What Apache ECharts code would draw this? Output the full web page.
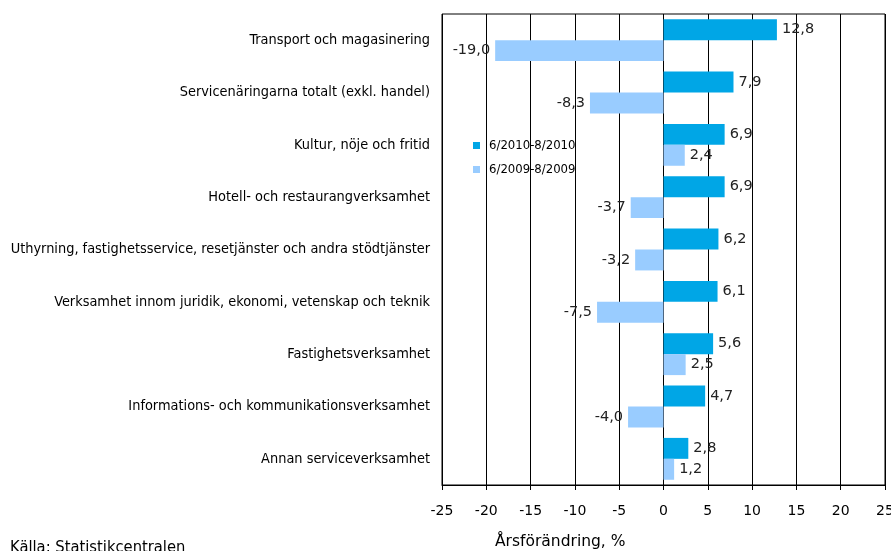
<!DOCTYPE html>
<html><head><meta charset="utf-8">
<script src="https://cdn.jsdelivr.net/npm/echarts@6/dist/echarts.min.js"></script>
<style>html,body{margin:0;padding:0;background:#fff}#c{width:891px;height:551px}</style>
</head><body><div id="c"></div>
<script>
const categories = [
  "Transport och magasinering",
  "Servicenäringarna totalt (exkl. handel)",
  "Kultur, nöje och fritid",
  "Hotell- och restaurangverksamhet",
  "Uthyrning, fastighetsservice, resetjänster och andra stödtjänster",
  "Verksamhet innom juridik, ekonomi, vetenskap och teknik",
  "Fastighetsverksamhet",
  "Informations- och kommunikationsverksamhet",
  "Annan serviceverksamhet"
];
const series2010 = [12.8, 7.9, 6.9, 6.9, 6.2, 6.1, 5.6, 4.7, 2.8];
const series2009 = [-19.0, -8.3, 2.4, -3.7, -3.2, -7.5, 2.5, -4.0, 1.2];
const seriesNames = ["6/2010-8/2010", "6/2009-8/2009"];
const xTicks = [-25, -20, -15, -10, -5, 0, 5, 10, 15, 20, 25];

const fmt = v => v.toFixed(1).replace('.', ',');
const mk = arr => arr.map(v => ({value: v, label: {position: v >= 0 ? 'right' : 'left'}}));
const cond = "'DejaVu Sans Condensed', 'DejaVu Sans'";
const dv = "'DejaVu Sans'";

const chart = echarts.init(document.getElementById('c'), null, {renderer: 'canvas'});
chart.setOption({
  animation: false,
  textStyle: {fontFamily: cond},
  grid: {left: 442, right: 6, top: 14, bottom: 66, show: true, borderColor: '#000', borderWidth: 1,
         outerBoundsMode: 'none', containLabel: false},
  legend: {
    orient: 'vertical', left: 468, top: 134, itemWidth: 7, itemHeight: 7, itemGap: 11,
    textStyle: {fontFamily: cond, fontSize: 13, color: '#000', padding: [0,0,0,4]},
    icon: 'rect', data: seriesNames
  },
  xAxis: {
    type: 'value', min: xTicks[0], max: xTicks[xTicks.length-1], interval: 5,
    axisLine: {show: true, lineStyle: {color: '#000'}},
    axisTick: {show: true, length: 5, lineStyle: {color: '#000'}},
    axisLabel: {color: '#000', fontSize: 14, margin: 19, fontFamily: dv},
    splitLine: {show: true, lineStyle: {color: '#000', width: 1}}
  },
  yAxis: {
    type: 'category', data: categories, inverse: true,
    axisLine: {show: false}, axisTick: {show: false},
    axisLabel: {color: '#000', fontSize: 14.4, margin: 12, fontFamily: cond}
  },
  series: [
    {name: seriesNames[0], type: 'bar', data: mk(series2010), barGap: '0%', barCategoryGap: '20%',
     itemStyle: {color: '#00a6e6'},
     label: {show: true, color: '#222', fontSize: 14.5, distance: 5, fontFamily: dv, formatter: p => fmt(p.value)}},
    {name: seriesNames[1], type: 'bar', data: mk(series2009), barGap: '0%', barCategoryGap: '20%',
     itemStyle: {color: '#99ccff'},
     label: {show: true, color: '#222', fontSize: 14.5, distance: 5, fontFamily: dv, formatter: p => fmt(p.value)}}
  ],
  graphic: [
    {type: 'text', left: 495, top: 534, style: {text: 'Årsförändring, %', font: '15.5px ' + dv, fill: '#000'}},
    {type: 'text', left: 10, top: 540, style: {text: 'Källa: Statistikcentralen', font: '16.4px ' + cond, fill: '#000'}}
  ]
});
</script></body></html>
